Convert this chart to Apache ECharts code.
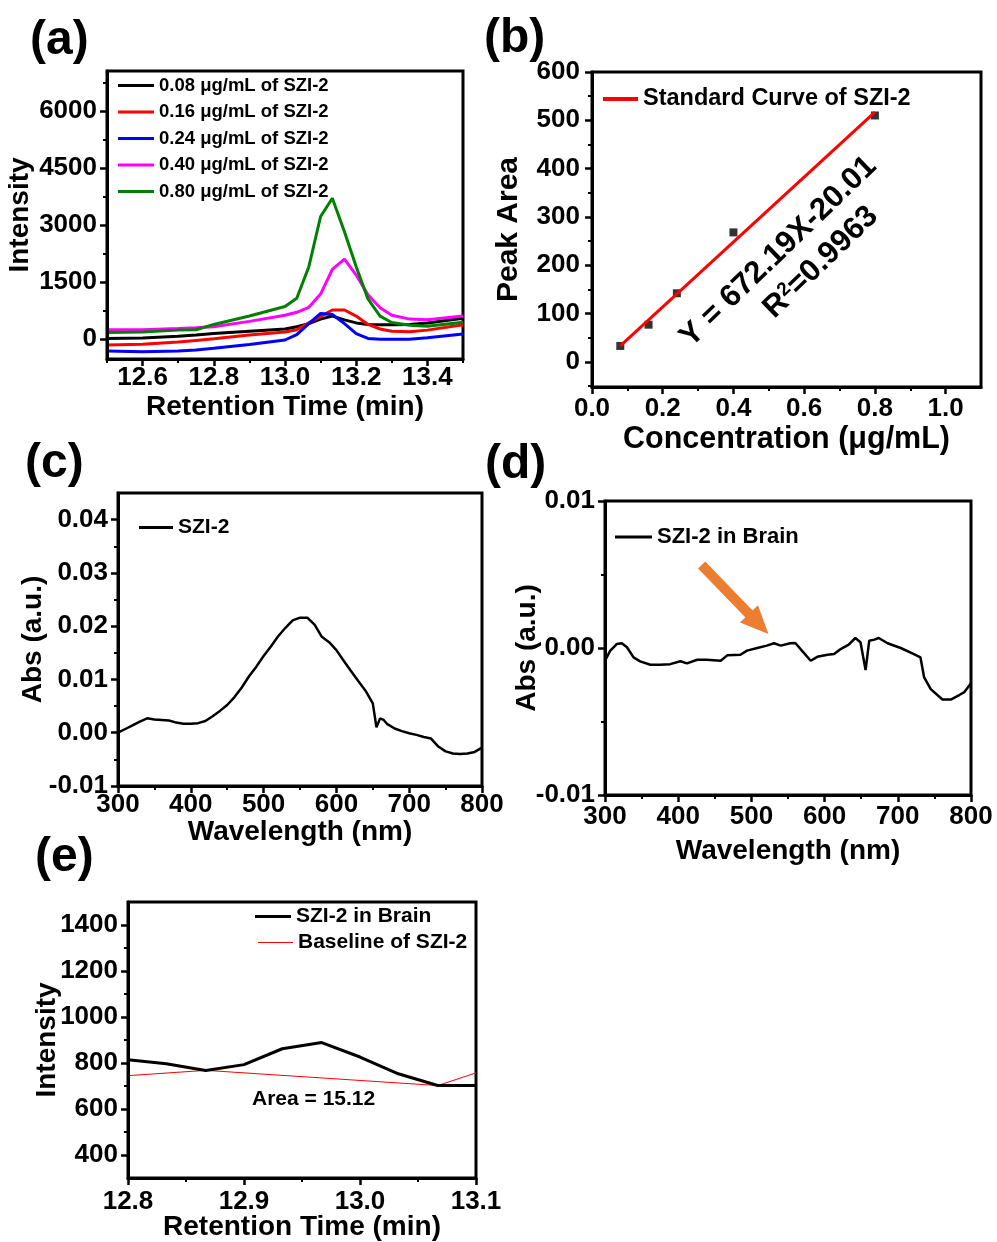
<!DOCTYPE html>
<html>
<head>
<meta charset="utf-8">
<script src="https://cdn.jsdelivr.net/npm/echarts@6/dist/echarts.min.js"></script>
<style>
html,body{margin:0;padding:0;background:#fff;}
#chart{width:997px;height:1242px;}
</style>
</head>
<body>
<div id="chart"></div>
<script>
// ---------- Panel (a): chromatograms ----------
const aTime = [12.5,12.6,12.7,12.75,12.8,12.9,13.0,13.033,13.067,13.1,13.133,13.167,13.2,13.233,13.267,13.3,13.35,13.4,13.5];
const aNames = ['0.08 μg/mL of SZI-2','0.16 μg/mL of SZI-2','0.24 μg/mL of SZI-2','0.40 μg/mL of SZI-2','0.80 μg/mL of SZI-2'];
const aColors = ['#000000','#ff0000','#0000ff','#ff00ff','#008000'];
const a008 = [10,20,70,100,140,200,260,320,400,520,600,500,420,380,370,370,380,420,540];
const a016 = [-160,-140,-80,-40,0,100,180,240,420,590,760,760,600,380,260,200,190,230,370];
const a024 = [-320,-340,-320,-290,-250,-150,-30,110,400,670,640,400,140,10,-10,-10,-10,30,130];
const a040 = [240,240,270,290,320,460,620,700,830,1180,1830,2100,1680,1160,820,620,520,500,600];
const a080 = [170,180,230,240,380,600,850,1070,1900,3220,3700,2820,1900,1050,600,430,360,330,440];
const aXLabels = [12.6,12.8,13.0,13.2,13.4];
const aXMinor = [12.5,12.7,12.9,13.1,13.3,13.5];
const aYLabels = [0,1500,3000,4500,6000];
const aYMinor = [750,2250,3750,5250,6750];

// ---------- Panel (b): standard curve ----------
const bConc = [0.08,0.16,0.24,0.40,0.80];
const bArea = [33,77,142,268,510];
const bFitX = [0.08,0.80];
const bFitY = [33,517];
const bXLabels = [0,0.2,0.4,0.6,0.8,1.0];
const bXMinor = [0.1,0.3,0.5,0.7,0.9];
const bYLabels = [0,100,200,300,400,500,600];
const bYMinor = [-50,50,150,250,350,450,550];

// ---------- Panel (c): UV-vis SZI-2 ----------
const cWave = [300,310,320,330,340,350,360,370,380,390,400,410,420,430,440,450,460,470,480,490,500,510,520,530,540,550,560,570,580,590,600,610,620,630,640,650,655,660,665,670,680,690,700,710,720,730,740,750,760,770,780,790,800];
const cAbs = [0.0000,0.0007,0.0014,0.0021,0.0027,0.0025,0.0024,0.0023,0.0019,0.0017,0.0017,0.0018,0.0022,0.0031,0.0041,0.0052,0.0067,0.0085,0.0106,0.0124,0.0144,0.0162,0.0181,0.0197,0.0211,0.0216,0.0216,0.0203,0.0180,0.0170,0.0155,0.0135,0.0116,0.0097,0.0079,0.0055,0.0010,0.0027,0.0024,0.0016,0.0008,0.0003,-0.0001,-0.0004,-0.0008,-0.0011,-0.0026,-0.0035,-0.0039,-0.0040,-0.0039,-0.0036,-0.0028];
const cXLabels = [300,400,500,600,700,800];
const cXMinor = [350,450,550,650,750];
const cYLabels = [-0.01,0,0.01,0.02,0.03,0.04];
const cYMinor = [-0.005,0.005,0.015,0.025,0.035];

// ---------- Panel (d): UV-vis in brain ----------
const dWave = [300,307,316,323,330,339,348,362,375,389,403,412,426,439,458,467,485,494,508,521,531,540,553,560,569,581,590,604,613,622,633,642,649,656,661,668,674,686,704,722,731,736,745,761,773,784,791,800];
const dAbs = [-0.00087,-0.0002,0.00027,0.00032,0.00005,-0.00064,-0.00091,-0.00114,-0.00114,-0.0011,-0.0009,-0.00105,-0.0008,-0.0008,-0.00087,-0.0005,-0.00046,-0.00018,0.0,0.00016,0.00032,0.00016,0.00032,0.00034,-0.00018,-0.00087,-0.0006,-0.00046,-0.00041,-0.00007,0.00023,0.00068,0.00039,-0.0015,0.0005,0.00057,0.00068,0.00032,0.0,-0.00041,-0.00064,-0.002,-0.0028,-0.0035,-0.0035,-0.0032,-0.003,-0.0024];
const dArrowX = [432,510];
const dArrowY = [0.00564,0.00164];
const dXLabels = [300,400,500,600,700,800];
const dXMinor = [350,450,550,650,750];
const dYLabels = [-0.01,0,0.01];
const dYMinor = [-0.005,0.005];

// ---------- Panel (e): brain chromatogram ----------
const eTime = [12.8,12.833,12.867,12.9,12.933,12.967,13.0,13.033,13.067,13.1];
const eInt = [814,797,767,793,862,889,826,753,702,702];
const eBaseTime = [12.8,12.867,13.067,13.1];
const eBase = [745,768,702,757];
const eXLabels = [12.8,12.9,13.0,13.1];
const eXMinor = [12.85,12.95,13.05];
const eYLabels = [400,600,800,1000,1200,1400];
const eYMinor = [500,700,900,1100,1300];

// ---------- helpers ----------
const FONT = 'Liberation Sans';
const zip = (xs, ys) => xs.map((x, i) => [x, ys[i]]);
const txt = (size) => ({fontSize:size, fontWeight:'bold', color:'#000', fontFamily:FONT});

function mkAxes(dim, grid, o){
  const pos = dim === 'x' ? 'bottom' : 'left';
  const main = {
    type:'value', gridIndex:grid, position:pos, min:o.min, max:o.max, scale:true,
    axisLine:{show:true, onZero:false, lineStyle:{color:'#000', width:3}},
    axisTick:{show:true, inside:false, length:7, customValues:o.labels, lineStyle:{color:'#000', width:2.5}},
    axisLabel:Object.assign({show:true, customValues:o.labels, margin:o.margin,
      formatter:(v)=>Number(v).toFixed(o.dec)}, txt(26)),
    splitLine:{show:false},
    name:o.name, nameLocation:'middle', nameGap:o.gap, nameMoveOverlap:false,
    nameTextStyle:txt(o.ns || 28),
    z:5
  };
  const minor = {
    type:'value', gridIndex:grid, position:pos, min:o.min, max:o.max, scale:true,
    axisLine:{show:false, onZero:false},
    axisTick:{show:true, inside:false, length:4, customValues:o.minor, lineStyle:{color:'#000', width:2}},
    axisLabel:{show:false},
    splitLine:{show:false}
  };
  return [main, minor];
}

const grids = [
  {left:107, top:71, width:356, height:288},
  {left:592, top:72, width:389, height:315},
  {left:118, top:493, width:364, height:293},
  {left:605, top:501, width:366, height:294},
  {left:128, top:902, width:348, height:276}
].map(g => Object.assign(g, {show:true, borderColor:'#000', borderWidth:3, backgroundColor:'transparent', outerBoundsMode:'none', containLabel:false}));

const xAxes = [].concat(
  mkAxes('x',0,{min:12.5,max:13.5,labels:aXLabels,minor:aXMinor,dec:1,margin:6,name:'Retention Time (min)',gap:34}),
  mkAxes('x',1,{min:0,max:1.1,labels:bXLabels,minor:bXMinor,dec:1,margin:9,name:'Concentration (μg/mL)',gap:37,ns:30.5}),
  mkAxes('x',2,{min:300,max:800,labels:cXLabels,minor:cXMinor,dec:0,margin:6,name:'Wavelength (nm)',gap:32}),
  mkAxes('x',3,{min:300,max:800,labels:dXLabels,minor:dXMinor,dec:0,margin:9,name:'Wavelength (nm)',gap:42}),
  mkAxes('x',4,{min:12.8,max:13.1,labels:eXLabels,minor:eXMinor,dec:1,margin:11,name:'Retention Time (min)',gap:35})
);
const yAxes = [].concat(
  mkAxes('y',0,{min:-530,max:7050,labels:aYLabels,minor:aYMinor,dec:0,margin:10,name:'Intensity',gap:73}),
  mkAxes('y',1,{min:-52,max:600,labels:bYLabels,minor:bYMinor,dec:0,margin:12,name:'Peak Area',gap:68,ns:30}),
  mkAxes('y',2,{min:-0.01,max:0.045,labels:cYLabels,minor:cYMinor,dec:2,margin:10,name:'Abs (a.u.)',gap:71}),
  mkAxes('y',3,{min:-0.01,max:0.01,labels:dYLabels,minor:dYMinor,dec:2,margin:10,name:'Abs (a.u.)',gap:64}),
  mkAxes('y',4,{min:300,max:1500,labels:eYLabels,minor:eYMinor,dec:0,margin:10,name:'Intensity',gap:67})
);

const aData = [a008,a016,a024,a040,a080];
const series = [];
aData.forEach((vals, i) => {
  series.push({type:'line', name:aNames[i], xAxisIndex:0, yAxisIndex:0, symbol:'none', silent:true,
    data:zip(aTime, vals), lineStyle:{width:3, color:aColors[i]}, itemStyle:{color:aColors[i]}});
});
series.push({type:'scatter', name:'Measured', xAxisIndex:2, yAxisIndex:2, symbol:'rect', symbolSize:8, silent:true,
  data:zip(bConc,bArea), itemStyle:{color:'#000'}, z:3});
series.push({type:'line', name:'Standard Curve of SZI-2', xAxisIndex:2, yAxisIndex:2, symbol:'none', silent:true,
  data:zip(bFitX,bFitY), lineStyle:{width:3, color:'#ff0000'}, itemStyle:{color:'#ff0000'}, z:4,
  markPoint:{silent:true, symbol:'circle', symbolSize:0, itemStyle:{color:'transparent'},
    label:Object.assign({show:true, position:'inside', rotate:44}, txt(31)),
    data:[
      {coord:[0.527,228], label:{formatter:'Y = 672.19X-20.01'}},
      {coord:[0.647,206], label:{formatter:'{a|R}{s|2}{a|=0.9963}', rich:{a:txt(31), s:Object.assign({verticalAlign:'top'}, txt(19))}}}
    ]}
});
series.push({type:'line', name:'SZI-2', xAxisIndex:4, yAxisIndex:4, symbol:'none', silent:true,
  data:zip(cWave,cAbs), lineStyle:{width:2.5, color:'#000'}, itemStyle:{color:'#000'}});
series.push({type:'line', name:'SZI-2 in Brain', xAxisIndex:6, yAxisIndex:6, symbol:'none', silent:true,
  data:zip(dWave,dAbs), lineStyle:{width:2.5, color:'#000'}, itemStyle:{color:'#000'},
  markLine:{silent:true, symbol:['none','triangle'], symbolSize:[25,28], label:{show:false},
    lineStyle:{color:'#ED7D31', width:10, type:'solid', opacity:1}, itemStyle:{color:'#ED7D31'},
    emphasis:{disabled:true},
    data:[[{coord:[dArrowX[0],dArrowY[0]]},{coord:[dArrowX[1],dArrowY[1]]}]]}
});
series.push({type:'line', name:'SZI-2 in Brain', xAxisIndex:8, yAxisIndex:8, symbol:'none', silent:true,
  data:zip(eTime,eInt), lineStyle:{width:3, color:'#000'}, itemStyle:{color:'#000'}, z:3,
  markPoint:{silent:true, symbol:'circle', symbolSize:0, itemStyle:{color:'transparent'},
    label:Object.assign({show:true, position:'inside', formatter:'Area = 15.12'}, txt(21)),
    data:[{coord:[12.96,642]}]}
});
series.push({type:'line', name:'Baseline of SZI-2', xAxisIndex:8, yAxisIndex:8, symbol:'none', silent:true,
  data:zip(eBaseTime,eBase), lineStyle:{width:1, color:'#ff0000'}, itemStyle:{color:'#ff0000'}, z:2});

const legBase = {padding:0, selectedMode:false, icon:'rect', itemHeight:3, orient:'vertical'};
const legends = [
  Object.assign({}, legBase, {data:aNames, left:118, top:76, itemWidth:36, itemGap:7.5, textStyle:txt(18.5)}),
  Object.assign({}, legBase, {data:['Standard Curve of SZI-2'], left:603, top:87, itemWidth:35, itemHeight:4, textStyle:txt(23.5)}),
  Object.assign({}, legBase, {data:['SZI-2'], left:139, top:517, itemWidth:34, textStyle:txt(21)}),
  Object.assign({}, legBase, {data:['SZI-2 in Brain'], left:615, top:526, itemWidth:37, textStyle:txt(22)}),
  Object.assign({}, legBase, {data:['SZI-2 in Brain'], left:255, top:906, itemWidth:36, textStyle:txt(21)}),
  Object.assign({}, legBase, {data:['Baseline of SZI-2'], left:258, top:932, itemWidth:35, itemHeight:1, textStyle:txt(21)})
];

const titles = [
  {text:'(a)', left:30, top:17},
  {text:'(b)', left:484, top:15},
  {text:'(c)', left:25, top:440},
  {text:'(d)', left:485, top:441},
  {text:'(e)', left:35, top:834}
].map(t => Object.assign(t, {padding:0, textStyle:txt(48)}));

const chart = echarts.init(document.getElementById('chart'), null, {renderer:'canvas'});
chart.setOption({
  backgroundColor:'#ffffff',
  animation:false,
  title:titles,
  legend:legends,
  grid:grids,
  xAxis:xAxes,
  yAxis:yAxes,
  series:series
});
</script>
</body>
</html>
